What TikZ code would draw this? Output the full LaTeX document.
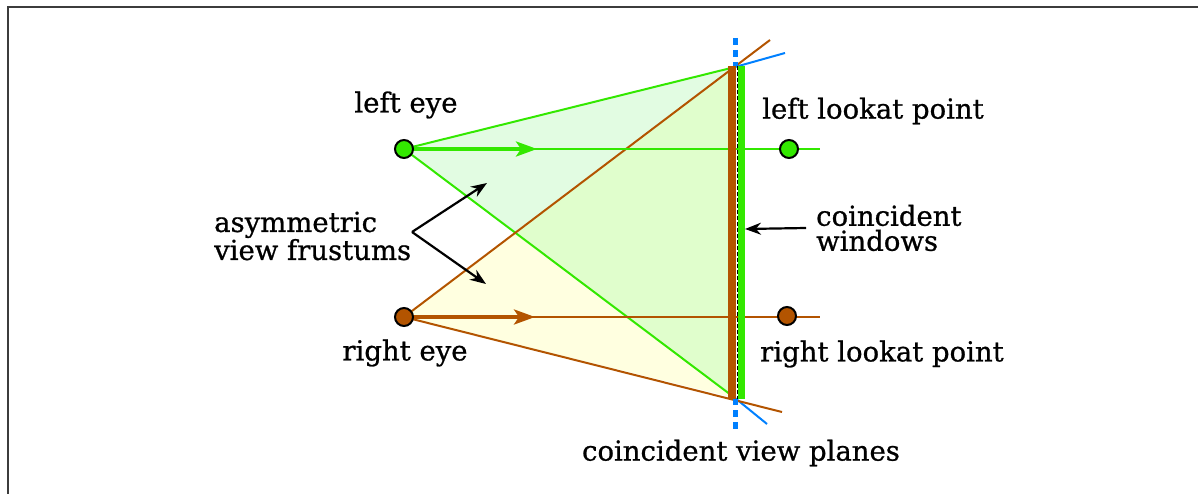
\documentclass[tikz,border=0pt]{standalone}
\usepackage{fontspec}
\setmainfont{DejaVu Serif}[RawFeature={embolden=0.8}]
\usetikzlibrary{arrows.meta}
\definecolor{eyegreen}{RGB}{51,232,0}
\definecolor{eyebrown}{RGB}{179,84,0}
\definecolor{lgreen}{RGB}{226,252,226}
\definecolor{lyellow}{RGB}{255,255,224}
\definecolor{lmix}{RGB}{224,254,204}
\definecolor{vblue}{RGB}{0,128,255}
\tikzset{
  lbl/.style={font=\fontsize{27.5}{25}\selectfont, inner sep=0pt},
  eyedot/.style={circle, draw=black, line width=2pt, minimum size=18pt, inner sep=0pt},
  gline/.style={draw=eyegreen, line width=2pt},
  bline/.style={draw=eyebrown, line width=2pt},
  bluel/.style={draw=vblue, line width=2pt},
  ptr/.style={draw=black, line width=2.2pt, -{Stealth[length=16pt,width=12pt]}},
}
\begin{document}
\begin{tikzpicture}[x=1pt,y=-1pt]
\useasboundingbox (0,0) rectangle (1198,494);
\draw[line width=1.5pt, draw={rgb,255:red,60;green,60;blue,60}] (8,494) -- (8,7) -- (1198,7);
\coordinate (L) at (404,149);
\coordinate (R) at (404,317);
\coordinate (T) at (735,67);
\coordinate (B) at (735,398);
\coordinate (LL) at (789,149);
\coordinate (RL) at (787,316);
% fills
\fill[lgreen] (L) -- (T) -- (B) -- cycle;
\fill[lyellow] (R) -- (T) -- (B) -- cycle;
\begin{scope}
  \clip (L) -- (T) -- (B) -- cycle;
  \fill[lmix] (R) -- (T) -- (B) -- cycle;
\end{scope}
% frustum lines
\coordinate (Tb) at (785,53);
\coordinate (Bb) at (767,424);
\coordinate (Tr) at (770,40);
\coordinate (Br) at (782,412);
\path[bluel] (T) -- (Tb);
\path[bluel] (B) -- (Bb);
\path[gline] (L) -- (T);
\path[gline] (L) -- (B);
\path[bline] (R) -- (Tr);
\path[bline] (R) -- (Br);
% sight lines
\coordinate (Le) at (820,149);
\coordinate (Re) at (820,317);
\coordinate (La) at (537,149);
\coordinate (Ra) at (535,317);
\path[gline] (L) -- (Le);
\path[bline] (R) -- (Re);
\draw[eyegreen, line width=3.5pt, -{Stealth[length=21pt,width=15pt,inset=5pt]}] (L) -- (La);
\draw[eyebrown, line width=3.5pt, -{Stealth[length=21pt,width=15pt,inset=5pt]}] (R) -- (Ra);
% view plane
\coordinate (Pt) at (735,38);
\coordinate (Pb) at (735,431);
\draw[vblue, line width=5pt, dash pattern=on 7pt off 5pt] (Pt) -- (T);
\draw[vblue, line width=5pt, dash pattern=on 7pt off 5pt] (B) -- (Pb);
% windows
\fill[eyebrown] (727.5,66) rectangle (736,399);
\fill[eyegreen] (738,66) rectangle (744.5,399);
\draw[black, line width=1pt, dash pattern=on 4pt off 2pt] (737,66) -- (737,399);
% eyes and lookat points
\node[eyedot, fill=eyegreen] (leye) at (L) {};
\node[eyedot, fill=eyebrown] (reye) at (R) {};
\node[eyedot, fill=eyegreen] (llook) at (LL) {};
\node[eyedot, fill=eyebrown] (rlook) at (RL) {};
% labels
\node[lbl] (tleye) at (406,105) {left eye};
\node[lbl] (treye) at (405,353) {right eye};
\node[lbl, anchor=west] (tllook) at (762,111) {left lookat point};
\node[lbl, anchor=west] (trlook) at (760,354) {right lookat point};
\node[lbl, anchor=west, align=left] (tasym) at (214,236) {asymmetric\\view frustums};
\node[lbl, anchor=west, align=left] (twin) at (816,228) {coincident\\windows};
\node[lbl] (tplane) at (741,453) {coincident view planes};
% pointers
\coordinate (A0) at (412,232);
\coordinate (A1) at (487,183);
\coordinate (A2) at (486,284);
\coordinate (W0) at (806,228);
\coordinate (W1) at (745,229);
\draw[ptr] (A0) -- (A1);
\draw[ptr] (A0) -- (A2);
\draw[ptr] (W0) -- (W1);
\end{tikzpicture}
\end{document}
